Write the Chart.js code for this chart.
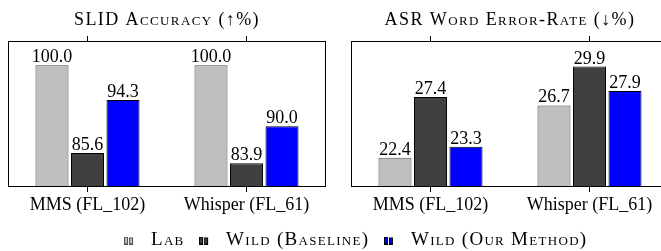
<!DOCTYPE html>
<html><head><meta charset="utf-8">
<script src="https://cdn.jsdelivr.net/npm/chart.js@4.4.1/dist/chart.umd.min.js"></script>
<style>
html,body{margin:0;padding:0;background:#fff;width:661px;height:251px;overflow:hidden;position:relative}
.box{position:absolute}
canvas{display:block}
</style></head><body>
<div class="box" style="left:0;top:0;width:330px;height:225px"><canvas id="c1" width="330" height="225"></canvas></div>
<div class="box" style="left:330px;top:0;width:343px;height:225px"><canvas id="c2" width="343" height="225"></canvas></div>
<div class="box" style="left:0;top:224px;width:661px;height:120px"><canvas id="c3" width="661" height="120"></canvas></div>
<script>
const models = ['MMS (FL_102)', 'Whisper (FL_61)'];
const seriesNames = ['Lab', 'Wild (Baseline)', 'Wild (Our Method)'];
const slidLab = [100.0, 100.0];
const slidWildBaseline = [85.6, 83.9];
const slidWildOurs = [94.3, 90.0];
const werLab = [22.4, 26.7];
const werWildBaseline = [27.4, 29.9];
const werWildOurs = [23.3, 27.9];
const panelTitles = ['SLID Accuracy (↑%)', 'ASR Word Error-Rate (↓%)'];
const slidRange = [80, 104];
const werRange = [20, 32];

const FAM = "'Liberation Serif', 'Times New Roman', serif";
const fills = ['#bfbfbf', '#404040', '#0000ff'];
const borders = ['#4d4d4d', '#000000', '#000000'];

const framePlugin = {
  id: 'frame',
  afterDatasetsDraw(chart) {
    const {ctx, chartArea: a} = chart;
    ctx.save();
    ctx.strokeStyle = '#000';
    ctx.lineWidth = 1;
    ctx.strokeRect(Math.round(a.left) + 0.5, Math.round(a.top) + 0.5,
      Math.round(a.right - a.left) - 1, Math.round(a.bottom - a.top) - 1);
    ctx.restore();
  }
};

const valueLabels = {
  id: 'valueLabels',
  afterDatasetsDraw(chart) {
    const ctx = chart.ctx;
    ctx.save();
    ctx.letterSpacing = '0px';
    ctx.font = "18px " + FAM;
    ctx.fillStyle = '#000';
    ctx.textAlign = 'center';
    ctx.textBaseline = 'alphabetic';
    chart.data.datasets.forEach((ds, i) => {
      chart.getDatasetMeta(i).data.forEach((bar, j) => {
        ctx.fillText(ds.data[j].toFixed(1), bar.x, bar.y - 3);
      });
    });
    ctx.restore();
  }
};

// small-caps titles are set a little wider, as in the reference
const spacedTitle = {
  id: 'spacedTitle',
  beforeDraw(chart) {
    const tb = chart.titleBlock;
    if (tb && !tb._spaced) {
      const orig = tb.draw;
      tb.draw = function () {
        const ctx = chart.ctx;
        const prev = ctx.letterSpacing;
        ctx.letterSpacing = '1.4px';
        orig.apply(this, arguments);
        ctx.letterSpacing = prev;
      };
      tb._spaced = true;
    }
  }
};

function tickGrid() {
  return {display: true, drawOnChartArea: false, drawTicks: true, tickLength: 5, offset: false, color: '#000', lineWidth: 1};
}

function panel(id, title, series, range, padLeft, padRight) {
  return new Chart(document.getElementById(id), {
    type: 'bar',
    data: {
      labels: models,
      datasets: series.map((d, i) => ({
        label: seriesNames[i], data: d,
        backgroundColor: fills[i], borderColor: borders[i], borderWidth: 1,
        barPercentage: 0.93, categoryPercentage: 0.67
      }))
    },
    options: {
      responsive: false, animation: false,
      layout: {padding: {left: padLeft, right: padRight, top: 0, bottom: 0}},
      plugins: {
        legend: {display: false},
        tooltip: {enabled: false},
        title: {display: true, text: title, color: '#000',
          font: {family: FAM, size: 18, weight: 'small-caps', lineHeight: 1},
          padding: {top: 11, bottom: 7}}
      },
      scales: {
        x: {type: 'category', offset: true, grid: tickGrid(), border: {display: false},
          ticks: {color: '#000', font: {family: FAM, size: 18}, padding: 2, maxRotation: 0, autoSkip: false},
          afterFit(s) { s.height = 38; }},
        x2: {type: 'category', labels: models, position: 'top', offset: true, grid: tickGrid(),
          border: {display: false}, ticks: {display: false},
          afterFit(s) { s.height = 5; }},
        y: {display: false, min: range[0], max: range[1]}
      }
    },
    plugins: [framePlugin, valueLabels, spacedTitle]
  });
}

panel('c1', panelTitles[0], [slidLab, slidWildBaseline, slidWildOurs], slidRange, 8, 4);
panel('c2', panelTitles[1], [werLab, werWildBaseline, werWildOurs], werRange, 21, 4);

function icon(i) {
  const c = document.createElement('canvas');
  c.width = 10; c.height = 8;
  const x = c.getContext('2d');
  x.fillStyle = fills[i]; x.strokeStyle = borders[i]; x.lineWidth = 1;
  x.fillRect(0.5, 0.5, 3, 7); x.strokeRect(0.5, 0.5, 3, 7);
  x.fillRect(5.5, 1.5, 3, 6); x.strokeRect(5.5, 1.5, 3, 6);
  return c;
}
const icons = [0, 1, 2].map(icon);

const spacedLegend = {
  id: 'spacedLegend',
  beforeUpdate(chart) { chart.ctx.letterSpacing = '1.3px'; },
  beforeDraw(chart) { chart.ctx.letterSpacing = '1.3px'; }
};

new Chart(document.getElementById('c3'), {
  type: 'bar',
  data: {labels: [], datasets: seriesNames.map((n, i) => ({label: n, data: [], backgroundColor: fills[i], borderColor: borders[i]}))},
  options: {
    responsive: false, animation: false,
    layout: {padding: {left: 43, right: 0}},
    scales: {x: {display: false}, y: {display: false}},
    plugins: {
      tooltip: {enabled: false},
      legend: {display: true, position: 'top',
        labels: {usePointStyle: true, pointStyleWidth: 25, padding: 7, color: '#000',
          font: {family: FAM, size: 19, weight: 'small-caps', lineHeight: 1},
          generateLabels: () => seriesNames.map((n, i) => ({text: n, fillStyle: fills[i], strokeStyle: borders[i], lineWidth: 0, pointStyle: icons[i], hidden: false, datasetIndex: i, fontColor: '#000'}))}}
    }
  },
  plugins: [spacedLegend]
});
</script>
</body></html>
